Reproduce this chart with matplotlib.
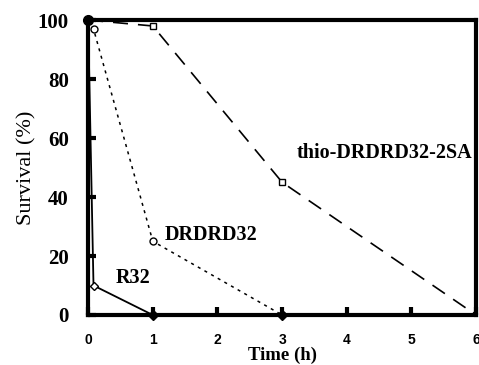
import matplotlib
matplotlib.use('Agg')
import matplotlib.pyplot as plt

# survival data (time in h, survival in %)
r32_t = [0, 0.083, 1]
r32_s = [100, 10, 0]
drd_t = [0, 0.083, 1, 3]
drd_s = [100, 97, 25, 0]
thio_t = [0, 1, 3, 6]
thio_s = [100, 98, 45, 0]

serif = ['Liberation Serif', 'DejaVu Serif']
sans = ['Liberation Sans', 'DejaVu Sans']

fig = plt.figure(figsize=(4.79, 3.65), dpi=100)
ax = fig.add_axes([0.184, 0.137, 0.810, 0.808])

ax.plot(thio_t, thio_s, color='black', lw=1.2, ls=(0, (9, 6)), marker='s',
        ms=5, mfc='white', mec='black', mew=1)
ax.plot(drd_t, drd_s, color='black', lw=1.1, ls=(0, (2, 3)), marker='o',
        ms=5, mfc='white', mec='black', mew=1)
ax.plot(r32_t, r32_s, color='black', lw=1.3, ls='-', marker='D',
        ms=4, mfc='white', mec='black', mew=1)
# filled points at the ends
ax.plot([0], [100], ls='none', marker='o', ms=7, color='black',
        clip_on=False, zorder=5)
ax.plot([1, 3], [0, 0], ls='none', marker='D', ms=5, color='black',
        clip_on=False, zorder=5)

ax.set_xlim(0, 6)
ax.set_ylim(0, 100)
ax.set_xticks(range(7))
ax.set_yticks(range(0, 101, 20))
for s in ax.spines.values():
    s.set_linewidth(3)
ax.tick_params(direction='in', length=6, width=3, top=False, right=False)
ax.tick_params(axis='x', pad=13)
ax.tick_params(axis='y', pad=14)
for lab in ax.get_xticklabels():
    lab.set_fontfamily(sans)
    lab.set_fontweight('bold')
    lab.set_fontsize(10)
for lab in ax.get_yticklabels():
    lab.set_fontfamily(serif)
    lab.set_fontweight('bold')
    lab.set_fontsize(15)

ax.set_xlabel('Time (h)', family=serif, fontweight='bold', fontsize=13.5, labelpad=0)
ax.set_ylabel('Survival (%)', family=serif, fontsize=16, labelpad=1)

ax.text(3.23, 55, 'thio-DRDRD32-2SA', family=serif, fontweight='bold',
        fontsize=14.5, va='center')
ax.text(1.19, 27, 'DRDRD32', family=serif, fontweight='bold', fontsize=14.5,
        va='center')
ax.text(0.42, 12.5, 'R32', family=serif, fontweight='bold', fontsize=14.5,
        va='center')

fig.savefig('out.png', dpi=100)
